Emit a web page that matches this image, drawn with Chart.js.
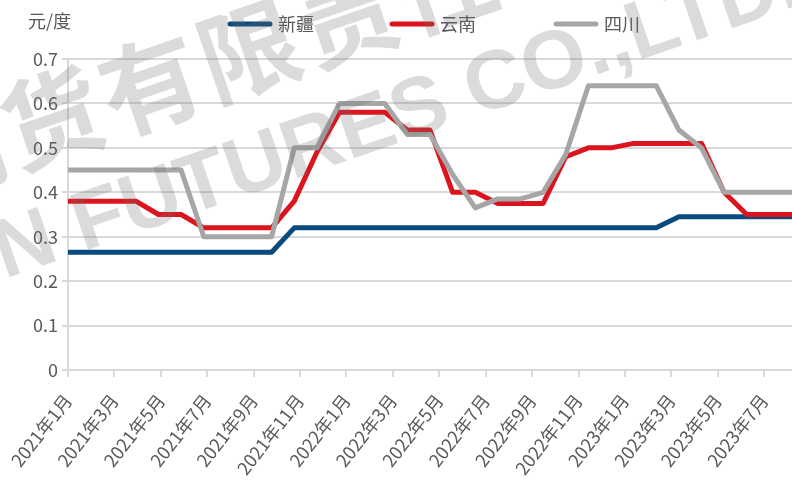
<!DOCTYPE html>
<html>
<head>
<meta charset="utf-8">
<script src="https://cdn.jsdelivr.net/npm/chart.js@4.4.0/dist/chart.umd.min.js"></script>
<style>
  html, body { margin: 0; padding: 0; background: #fff; }
  #wrap { width: 792px; height: 480px; position: relative; }
</style>
</head>
<body>
<div id="wrap"><canvas id="myChart"></canvas></div>
<script>
// Datos

const meses = [
  "2021年1月", "2021年2月", "2021年3月", "2021年4月", "2021年5月", "2021年6月",
  "2021年7月", "2021年8月", "2021年9月", "2021年10月", "2021年11月", "2021年12月",
  "2022年1月", "2022年2月", "2022年3月", "2022年4月", "2022年5月", "2022年6月",
  "2022年7月", "2022年8月", "2022年9月", "2022年10月", "2022年11月", "2022年12月",
  "2023年1月", "2023年2月", "2023年3月", "2023年4月", "2023年5月", "2023年6月",
  "2023年7月", "2023年8月", "2023年9月"
];

const xinjiang = [
  0.265, 0.265, 0.265, 0.265, 0.265, 0.265, 0.265, 0.265, 0.265, 0.265,
  0.32, 0.32, 0.32, 0.32, 0.32, 0.32, 0.32, 0.32, 0.32, 0.32,
  0.32, 0.32, 0.32, 0.32, 0.32, 0.32, 0.32,
  0.345, 0.345, 0.345, 0.345, 0.345, 0.345
];

const yunnan = [
  0.38, 0.38, 0.38, 0.38, 0.35, 0.35, 0.32, 0.32, 0.32, 0.32,
  0.38, 0.49, 0.58, 0.58, 0.58, 0.54, 0.54, 0.40, 0.40, 0.375,
  0.375, 0.375, 0.48, 0.50, 0.50, 0.51, 0.51, 0.51, 0.51, 0.40,
  0.35, 0.35, 0.35
];

const sichuan = [
  0.45, 0.45, 0.45, 0.45, 0.45, 0.45, 0.30, 0.30, 0.30, 0.30,
  0.50, 0.50, 0.60, 0.60, 0.60, 0.53, 0.53, 0.44, 0.365, 0.385,
  0.385, 0.40, 0.485, 0.64, 0.64, 0.64, 0.64, 0.54, 0.50, 0.40,
  0.40, 0.40, 0.40
];

const nombresSeries = ["新疆", "云南", "四川"];
const coloresSeries = ["#0b4a7e", "#dc141e", "#a6a6a6"];
const unidad = "元/度";
const yMin = 0;
const yMax = 0.7;
const yPaso = 0.1;

// En el original el eje de fechas es algo mas ancho que el paso de los datos:
// 33 puntos ocupan ~31.2 meses del eje, con marcas cada 2 meses.
const mesesEje = 31.2;
const pasoEtiquetas = 2;

const marcaCN = "期货有限责任公司";
const marcaEN = "N FUTURES CO.,LTD.";

Chart.defaults.font.family = '"Noto Sans CJK SC", "Noto Sans", sans-serif';

// Textos de arriba y marca de agua
const textosExtra = {
  id: "textosExtra",
  afterDraw(chart) {
    const c = chart.ctx;
    c.save();

    // unidad del eje
    c.fillStyle = "#595959";
    c.font = '18px "Noto Sans CJK SC"';
    c.textBaseline = "middle";
    c.textAlign = "left";
    c.fillText(unidad, 28, 21);

    // leyenda
    const posLeyenda = [228, 390, 554];
    chart.data.datasets.forEach((ds, i) => {
      const x = posLeyenda[i];
      c.strokeStyle = ds.borderColor;
      c.lineWidth = 5;
      c.lineCap = "round";
      c.beginPath();
      c.moveTo(x + 2, 24);
      c.lineTo(x + 42, 24);
      c.stroke();
      c.fillStyle = "#595959";
      c.fillText(ds.label, x + 50, 24);
    });

    // marca de agua
    const ang = -19 * Math.PI / 180;
    c.fillStyle = "rgba(110,110,110,0.25)";
    c.textAlign = "center";
    c.textBaseline = "middle";
    c.font = 'bold 100px "Noto Sans CJK SC"';
    const paso = 104;
    for (let k = 0; k < marcaCN.length; k++) {
      const d = (k - 1) * paso;
      c.save();
      c.translate(52 + d * Math.cos(ang), 118 + d * Math.sin(ang));
      c.rotate(ang);
      c.fillText(marcaCN[k], 0, 0);
      c.restore();
    }
    c.save();
    c.translate(-3, 257);
    c.rotate(ang);
    c.textAlign = "left";
    c.font = 'bold 83px "Liberation Sans"';
    c.fillText(marcaEN, 0, 0);
    c.restore();

    c.restore();
  }
};

const ctx = document.getElementById("myChart");

const myChart = new Chart(ctx, {
  type: "line",
  data: {
    labels: meses,
    datasets: [
      { label: nombresSeries[0], data: xinjiang, borderColor: coloresSeries[0], order: 3 },
      { label: nombresSeries[1], data: yunnan, borderColor: coloresSeries[1], order: 2 },
      { label: nombresSeries[2], data: sichuan, borderColor: coloresSeries[2], order: 1 }
    ]
  },
  options: {
    responsive: true,
    maintainAspectRatio: false,
    animation: false,
    devicePixelRatio: 1,
    elements: {
      line: { borderWidth: 5, tension: 0, borderJoinStyle: "round", fill: false },
      point: { radius: 0 }
    },
    layout: { padding: { top: 59, right: 0, left: 0, bottom: 0 } },
    plugins: {
      legend: { display: false },
      tooltip: { enabled: false }
    },
    scales: {
      // eje de los datos (oculto)
      x: {
        display: false,
        offset: false
      },
      // eje de las etiquetas de meses
      xMeses: {
        type: "linear",
        position: "bottom",
        min: 0,
        max: mesesEje,
        grid: { drawOnChartArea: false, tickLength: 7, color: "#d9d9d9", lineWidth: 2 },
        border: { color: "#d9d9d9", width: 2 },
        ticks: {
          stepSize: pasoEtiquetas,
          includeBounds: false,
          autoSkip: false,
          maxRotation: 52,
          minRotation: 52,
          color: "#595959",
          font: { size: 18 },
          padding: 13,
          callback: (v) => meses[v]
        },
        afterFit: (axis) => {
          axis.height = 110;
          axis.paddingLeft = 0;
          axis.paddingRight = 0;
        }
      },
      y: {
        min: yMin,
        max: yMax,
        grid: { color: "#d9d9d9", lineWidth: 2, tickLength: 6 },
        border: { color: "#d9d9d9", width: 2 },
        ticks: {
          stepSize: yPaso,
          color: "#595959",
          font: { size: 18 },
          padding: 4,
          callback: (v) => (v === 0 ? "0" : v.toFixed(1))
        },
        afterFit: (axis) => { axis.width = 68; }
      }
    }
  },
  plugins: [textosExtra]
});
</script>
</body>
</html>
